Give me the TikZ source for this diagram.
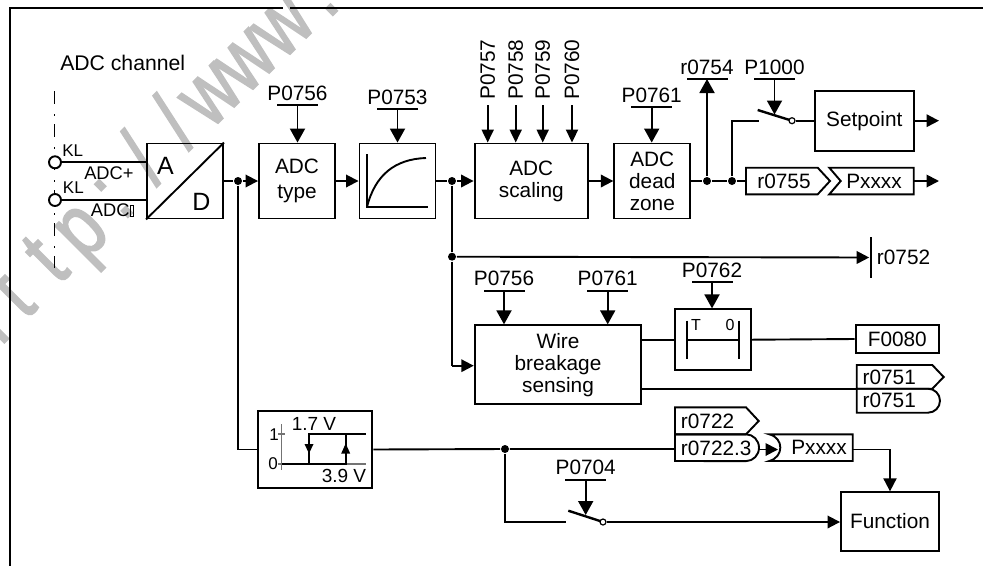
\documentclass[tikz,border=0pt]{standalone}
\usepackage{fontspec}
\setmainfont{Liberation Sans}
\newfontfamily\wmfont[FakeBold=2]{Liberation Sans}
\usepackage{tikz}
\usetikzlibrary{arrows.meta,positioning,calc}
\usepackage{xcolor}
\definecolor{wmgray}{gray}{0.75}
\definecolor{axisgray}{gray}{0.45}
\newcommand{\txtfont}{\fontsize{20.8}{22}\selectfont}
\newcommand{\missglyph}{{\fboxsep=0pt\fboxrule=.5pt\fbox{\rule{3pt}{0pt}\rule{0pt}{11pt}}}}
% parameter name over a short bar
\newcommand{\parmbar}[4]{%
  \node[parmlabel] (#1) at (#2,#3) [yshift=5pt] {#4};
  \node[parmrule] (#1bar) at (#2,#3) {};}
\begin{document}
\begin{tikzpicture}[x=1pt,y=-1pt,line width=1.9pt,
  every node/.style={font=\txtfont,inner sep=0pt},
  blockbox/.style={draw,align=center,minimum width=76pt,minimum height=75pt},
  parmlabel/.style={anchor=base},
  parmrule/.style={fill=black,minimum width=41pt,minimum height=1.7pt},
  tagtext/.style={anchor=center},
  sig/.style={-{Triangle[length=12.5pt,width=12.5pt]}},
  parmarrow/.style={-{Triangle[length=14pt,width=15pt]}},
  smallarrow/.style={-{Triangle[length=13pt,width=12pt]}},
  junction/.style={circle,fill=black,minimum size=8pt},
  contact/.style={circle,draw,fill=white,line width=1.2pt,minimum size=6pt},
  terminal/.style={circle,draw,fill=white,minimum size=12pt},
  switchblade/.style={line width=2.4pt}]
\useasboundingbox (0,0) rectangle (983,566);

% watermark
\foreach \ch/\px/\py [count=\i] in {r/9/338,t/32/314,t/65/279,p/98.5/248.5,:/130/215,%
  {\char47}/162.8/179.8,{\char47}/195/144,w/228.5/112.5,w/263.5/78.5,w/300.5/43.5,./335/13}
  \node[text=wmgray,rotate=45,anchor=base,font=\fontsize{88}{88}\wmfont] (wm\i) at (\px,\py) {\scalebox{.8}[1]{\ch}};

% frame
\coordinate (frameA) at (983,8);
\coordinate (frameG) at (290,8);
\coordinate (frameH) at (283,8);
\coordinate (frameB) at (10,8);
\coordinate (frameC) at (10,566);
\draw[line width=2pt] (frameA) -- (frameG);
\draw[line width=2pt] (frameH) -- (frameB) -- (frameC);

% input side
\node[anchor=west,font=\fontsize{21.2}{22}\selectfont] (title) at (59.3,63) {ADC channel};
\coordinate (railtop) at (54.5,91);
\coordinate (railend) at (54.5,268);
\draw[line width=1.3pt,dash pattern=on 13pt off 10pt on 1.5pt off 8.5pt] (railtop) -- (railend);
\node[terminal] (klp) at (55,162.3) {};
\node[terminal] (klm) at (55,200) {};
\node[anchor=west,font=\fontsize{17}{17}\selectfont] (klptext) at (61.3,151) {KL};
\node[anchor=west,font=\fontsize{17}{17}\selectfont] (klmtext) at (62,188) {KL};
\node[anchor=west,font=\fontsize{18.3}{18}\selectfont] (adcp) at (83.3,173.5) {ADC+};
\node[anchor=west,font=\fontsize{18.3}{18}\selectfont] (adcm) at (90,210) {ADC\missglyph};

% main row
\node[blockbox] (adconv) at (185,181) {};
\draw (adconv.south west) -- (adconv.north east);
\node[font=\fontsize{25}{25}\selectfont] (adcA) at (165.5,166) {A};
\node[font=\fontsize{25}{25}\selectfont] (adcD) at (201.5,202) {D};
\draw (klp) -- (klp -| adconv.west);
\draw (klm) -- (klm -| adconv.west);
\node[blockbox] (adctype) at (297,181) {ADC\\[3.5pt]type};
\node[blockbox] (lagbox) at (397.5,181) {};
\coordinate (lagA) at (367,154);
\coordinate (lagB) at (367,207);
\coordinate (lagC) at (428,207);
\coordinate (lagD) at (426,158);
\draw (lagA) -- (lagB) -- (lagC);
\draw (lagB) .. controls (375,175) and (395,159) .. (lagD);
\node[blockbox,minimum width=113.5pt] (scaling) at (531.3,181) {ADC\\scaling};
\node[blockbox] (deadzone) at (652.3,181) {ADC\\dead\\zone};
\node[junction] (jadc) at (238,181) {};
\node[junction] (jlag) at (452,181) {};
\node[junction] (jdead) at (707,181) {};
\node[junction] (jsw) at (732,181) {};
\draw (adconv.east) -- (jadc);
\draw[sig] (jadc) -- (adctype.west);
\draw[sig] (adctype.east) -- (lagbox.west);
\draw (lagbox.east) -- (jlag);
\draw[sig] (jlag) -- (scaling.west);
\draw[sig] (scaling.east) -- (deadzone.west);
\draw (deadzone.east) -- (jdead) -- (jsw);

% parameters
\parmbar{pb}{297.5}{105}{P0756}
\parmbar{pc}{397.5}{109}{P0753}
\parmbar{pd}{651.7}{107}{P0761}
\parmbar{rs}{707}{79}{r0754}
\parmbar{pk}{774.5}{79}{P1000}
\draw[parmarrow] (pbbar.center) -- (pbbar.center |- adctype.north);
\draw[parmarrow] (pcbar.center) -- (pcbar.center |- lagbox.north);
\draw[parmarrow] (pdbar.center) -- (pdbar.center |- deadzone.north);
\draw[parmarrow] (jdead) -- (rsbar.center);
\foreach \pname/\px in {P0757/487.7,P0758/515.7,P0759/542.7,P0760/572} {
  \node[rotate=90,anchor=west] (\pname) at (\px,100.7) {\pname};
  \coordinate (\pname in) at (\px,105);
  \draw[smallarrow] (\pname in) -- (\pname in |- scaling.north);
}

% setpoint branch
\node[draw,minimum width=99pt,minimum height=60pt] (setpoint) at (864.3,120.7) {Setpoint};
\coordinate (swin) at (758.7,120.7);
\coordinate (bladeA) at (757.7,110);
\coordinate (bladeB) at (789,119.8);
\coordinate (bladeM) at (774.5,114.5);
\coordinate (outA) at (939,120.7);
\node[contact] (swout) at (792,120.7) {};
\draw (jsw) |- (swin);
\draw[switchblade] (bladeA) -- (bladeB);
\draw (swout) -- (setpoint.west);
\draw[parmarrow] (pkbar.center) -- (bladeM);
\draw[sig] (setpoint.east) -- (outA);

% r0755 / Pxxxx
\node[tagtext] (r0755) at (784,181) {r0755};
\node[tagtext] (pxa) at (874,181) {Pxxxx};
\coordinate (r0755in) at (746,181);
\coordinate (pxaout) at (913.7,181);
\coordinate (outB) at (939,181);
\draw (746,167.7) -- (817.7,167.7) -- (830,181) -- (817.7,194.3) -- (746,194.3) -- cycle;
\draw (829.3,167.7) -- (840.7,181) -- (829.3,194.3) -- (913.7,194.3) -- (913.7,167.7) -- cycle;
\draw (jsw) -- (r0755in);
\draw[sig] (pxaout) -- (outB);

% branch to r0752
\node[junction] (jbreak) at (452,256.7) {};
\node[minimum width=1.7pt,minimum height=41pt,fill=black] (r0752bar) at (871,257.5) {};
\node[anchor=west] (r0752) at (876,257.5) {r0752};
\draw (jlag) -- (jbreak);
\draw[sig] (jbreak) -- (r0752bar.west);

% wire breakage
\node[draw,align=center,minimum width=166.6pt,minimum height=79pt] (wire) at (558,364.8) {Wire\\breakage\\sensing};
\coordinate (wirein) at (452,365.7);
\draw (jbreak) -- (wirein);
\draw[sig] (wirein) -- (wirein -| wire.west);
\parmbar{pe}{504}{290.7}{P0756}
\parmbar{pf}{607.7}{290.7}{P0761}
\parmbar{pg}{712}{282.3}{P0762}
\draw[parmarrow] (pebar.center) -- (pebar.center |- wire.north);
\draw[parmarrow] (pfbar.center) -- (pfbar.center |- wire.north);

% timer
\node[draw,minimum width=75.7pt,minimum height=60.7pt] (timer) at (713.2,339.7) {};
\draw[parmarrow] (pgbar.center) -- (pgbar.center |- timer.north);
\coordinate (timerL) at (686.7,340);
\coordinate (timerR) at (739.3,340);
\draw (686.7,320.7) -- (686.7,359.3);
\draw (739.3,320.7) -- (739.3,359.3);
\draw (timerL) -- (timerR);
\node[font=\fontsize{16}{16}\selectfont] (timerT) at (696,324.5) {T};
\node[font=\fontsize{16}{16}\selectfont] (timerZ) at (730,324.5) {0};
\node[draw,minimum width=83.3pt,minimum height=28.3pt] (f0080) at (897.3,339) {F0080};
\draw (wire.east |- timer.west) -- (timer.west);
\draw (timer.east) -- (f0080.west);

% r0751 tags
\node[anchor=west] (r0751a) at (861.7,377) {r0751};
\node[anchor=west] (r0751b) at (861.7,400.5) {r0751};
\draw (856.7,365) -- (932.3,365) -- (943.7,377) -- (932.3,388.7) -- (856.7,388.7) -- cycle;
\draw (856.7,388.7) -- (928,388.7) arc[start angle=-90,end angle=90,x radius=12pt,y radius=-12pt] -- (856.7,412.7) -- cycle;
\coordinate (r0751in) at (856.7,388.7);
\draw (wire.east |- r0751in) -- (r0751in);

% comparator
\node[draw,minimum width=114pt,minimum height=77.6pt] (hyst) at (315.3,449.5) {};
\coordinate (axisT) at (281.7,424);
\coordinate (axisB) at (281.7,470);
\draw[axisgray,line width=1.1pt] (axisT) -- (axisB);
\draw[axisgray,line width=1.1pt] (278,434) -- (285,434);
\draw[axisgray,line width=1.1pt] (278,464) -- (282,464);
\draw[axisgray,line width=1.1pt] (345.7,464) -- (365.7,464);
\draw (282,464) -- (345.7,464) -- (345.7,434);
\draw (365.7,434) -- (309,434) -- (309,464);
\coordinate (hdA) at (309,453.5);
\coordinate (huA) at (345.7,443.5);
\fill (304.5,444) -- (313.5,444) -- (hdA) -- cycle;
\fill (341.2,453.5) -- (350.2,453.5) -- (huA) -- cycle;
\node[font=\fontsize{17}{17}\selectfont] (tickone) at (274,434.5) {1};
\node[font=\fontsize{17}{17}\selectfont] (tickzero) at (273,463.5) {0};
\node[font=\fontsize{19}{19}\selectfont] (hystlow) at (314,424) {1.7 V};
\node[font=\fontsize{19}{19}\selectfont] (hysthigh) at (344,476) {3.9 V};
\draw (jadc) |- (hyst.west);

% r0722 tags
\node[junction] (jfun) at (505,449) {};
\coordinate (r0722in) at (675,449);
\draw (hyst.east) -- (jfun) -- (r0722in);
\node[anchor=west] (r0722a) at (680,421) {r0722};
\node[anchor=west] (r0722b) at (680,448) {r0722.3};
\draw (675,407.3) -- (746,407.3) -- (758.7,421) -- (746,434.3) -- (675,434.3) -- cycle;
\draw (675,434.3) -- (746,434.3) arc[start angle=-90,end angle=90,x radius=13pt,y radius=-13.4pt] -- (675,461) -- cycle;
\coordinate (r0722out) at (759,449.5);
\coordinate (pxbtip) at (778,449.5);
\draw[sig] (r0722out) -- (pxbtip);
\node[anchor=center] (pxb) at (819,447.5) {Pxxxx};
\coordinate (pxbout) at (852.7,449.5);
\draw (769.3,434.3) .. controls (784,438) and (784,457) .. (769.3,461) -- (852.7,461) -- (852.7,434.3) -- cycle;

% function
\node[draw,minimum width=98pt,minimum height=58.4pt] (function) at (890,521.5) {Function};
\draw[parmarrow,-{Triangle[length=13pt,width=13pt]}] (pxbout) -| (function.north);
\parmbar{ph}{585.7}{479.7}{P0704}
\coordinate (fswin) at (566,521.7);
\coordinate (fbladeA) at (568.3,510.7);
\coordinate (fbladeB) at (600,521);
\node[contact] (fswout) at (603,522) {};
\draw (jfun) |- (fswin);
\draw[switchblade] (fbladeA) -- (fbladeB);
\draw[parmarrow] (phbar.center) -- (phbar.center |- 0,515);
\draw[sig] (fswout) -- (function.west |- fswout);
\end{tikzpicture}
\end{document}
